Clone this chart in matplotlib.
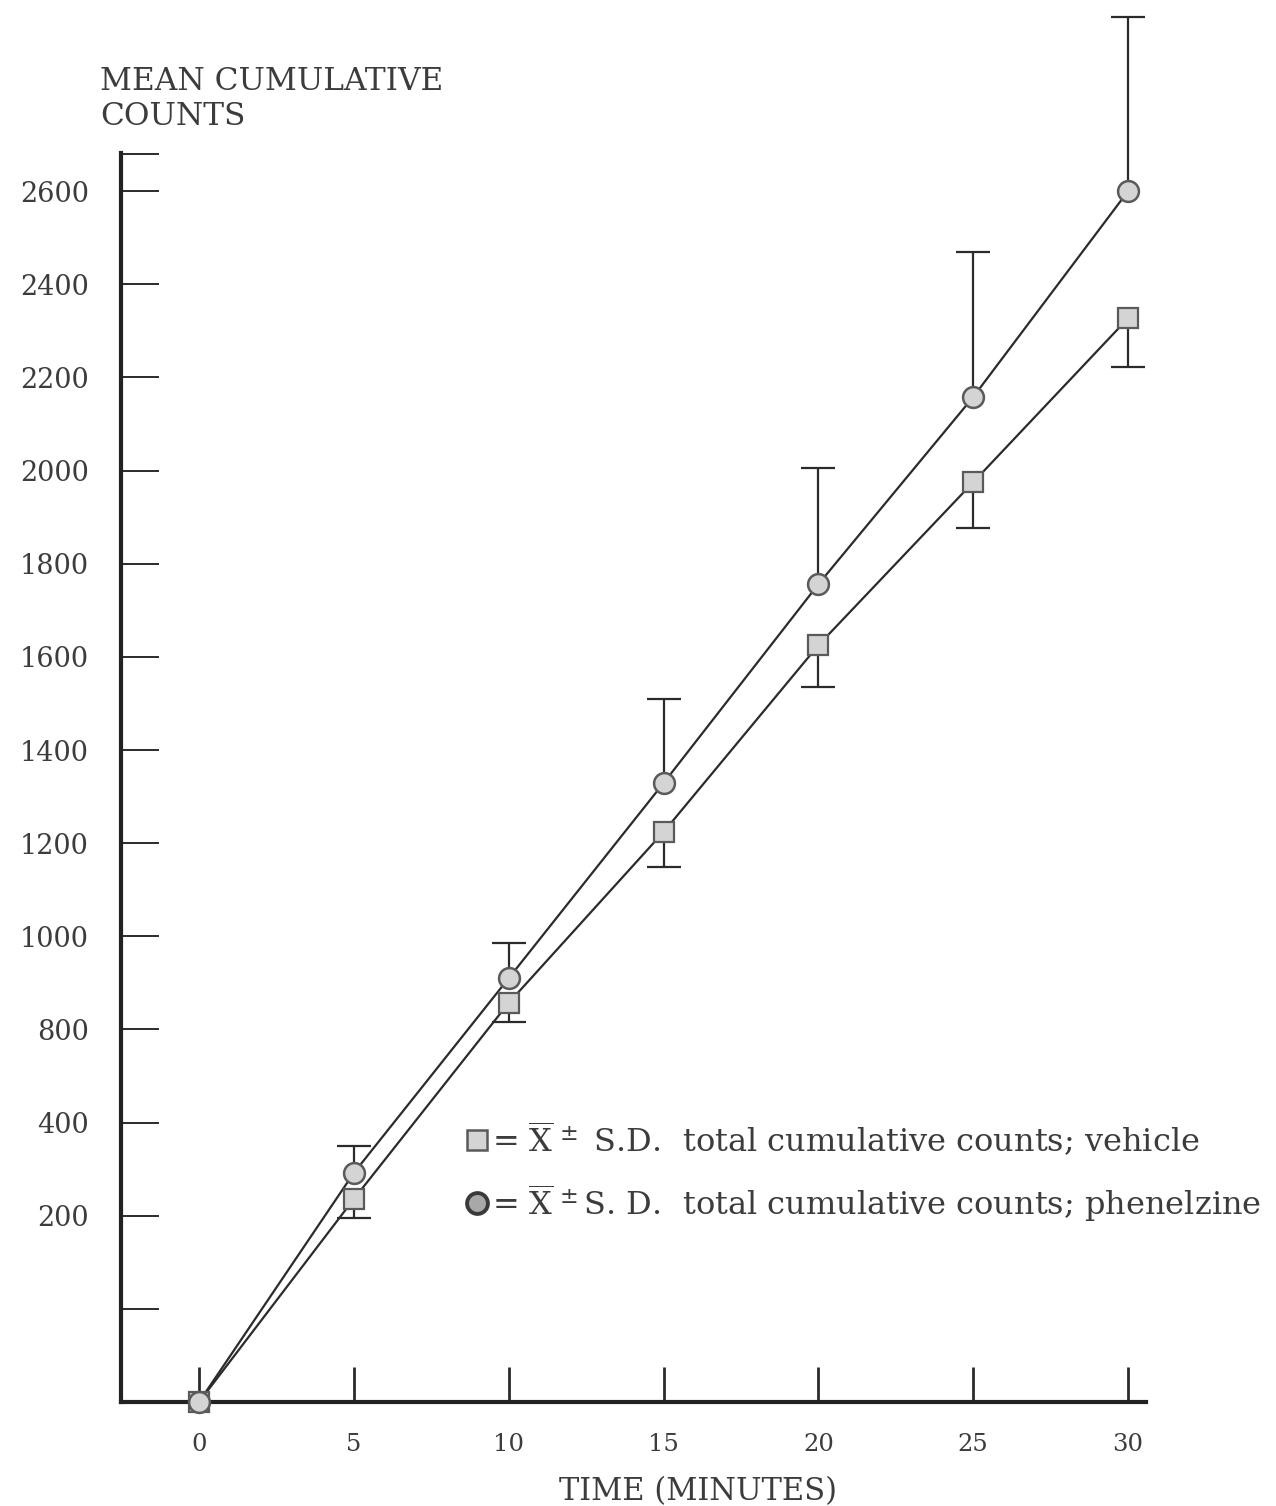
import numpy as np
import matplotlib
matplotlib.use("Agg")
import matplotlib.pyplot as plt

# values (in axis units)
time_min = [0, 5, 10, 15, 20, 25, 30]
vehicle = [0, 436, 857, 1224, 1625, 1975, 2327]
vehicle_sd = [0, 41, 41, 75, 90, 99, 105]
phenelzine = [0, 492, 910, 1329, 1756, 2158, 2600]
phenelzine_sd = [0, 58, 75, 180, 249, 311, 374]

xticks = [0, 5, 10, 15, 20, 25, 30]
yticks = [200, 400, 600, 800, 1000, 1200, 1400, 1600, 1800, 2000, 2200, 2400, 2600, 2680]
# the printed labels skip 600 and leave the lowest tick blank
ytick_labels = ['', '200', '400', '800', '1000', '1200', '1400', '1600',
                '1800', '2000', '2200', '2400', '2600', '']

ink = '#2b2b2b'
text_col = '#3c3c3c'
fill = '#d4d4d4'
edge = '#5a5a5a'

plt.rcParams['font.family'] = 'DejaVu Serif'
plt.rcParams['mathtext.fontset'] = 'dejavuserif'

fig = plt.figure(figsize=(12.76, 15.06), dpi=100)
ax = fig.add_axes([121 / 1276, 1 - 1402 / 1506, 1025 / 1276, 1249 / 1506])

# connecting lines
ax.plot(time_min, phenelzine, color=ink, lw=1.6, zorder=2, clip_on=False)
ax.plot(time_min, vehicle, color=ink, lw=1.6, zorder=2, clip_on=False)

# error bars: phenelzine upward, vehicle downward (skip time 0)
t = np.array(time_min[1:])
ph = np.array(phenelzine[1:])
veh = np.array(vehicle[1:])
ph_sd = np.array(phenelzine_sd[1:])
veh_sd = np.array(vehicle_sd[1:])
eb_ph = ax.errorbar(t, ph, yerr=[np.zeros_like(ph_sd), ph_sd], fmt='none',
                    ecolor=ink, elinewidth=1.6, capsize=12.5, capthick=1.6,
                    zorder=1, clip_on=False)
eb_veh = ax.errorbar(t, veh, yerr=[veh_sd, np.zeros_like(veh_sd)], fmt='none',
                     ecolor=ink, elinewidth=1.6, capsize=12.5, capthick=1.6,
                     zorder=1, clip_on=False)
# only one cap per bar: drop the cap sitting on the marker
eb_ph.lines[1][0].remove()
eb_veh.lines[1][1].remove()
for cap in (eb_ph.lines[1][1], eb_veh.lines[1][0]):
    cap.set_clip_on(False)

# markers
ax.plot(time_min, vehicle, 's', ms=15, mfc=fill, mec=edge, mew=1.6,
        zorder=4, clip_on=False)
ax.plot(time_min, phenelzine, 'o', ms=15, mfc=fill, mec=edge, mew=1.8,
        zorder=4, clip_on=False)

ax.set_xlim(-2.52, 30.58)
ax.set_ylim(0, 2682)

for side in ['top', 'right']:
    ax.spines[side].set_visible(False)
for side in ['left', 'bottom']:
    ax.spines[side].set_linewidth(3)
    ax.spines[side].set_color('#222222')

ax.set_xticks(xticks)
ax.set_xticklabels([str(v) for v in xticks], fontsize=17.5, color=text_col)
ax.set_yticks(yticks)
ax.set_yticklabels(ytick_labels, fontsize=19.5, color=text_col)
ax.tick_params(axis='y', direction='in', length=27, width=1.4,
               color=ink, pad=23)
ax.tick_params(axis='x', direction='in', length=25, width=2,
               color=ink, pad=22)

ax.set_xlabel('TIME (MINUTES)', fontsize=22, color=text_col)
ax.xaxis.set_label_coords((698 - 121) / 1025, -(1492 - 1402) / 1249)
ax.xaxis.label.set_va('center')

fig.text(100 / 1276, 1 - 66 / 1506, 'MEAN CUMULATIVE\nCOUNTS', ha='left',
         va='top', fontsize=22.5, color=text_col, linespacing=1.15)

# legend drawn as key markers + text
ax.plot([0.347], [0.210], 's', ms=15, mfc=fill, mec=edge, mew=1.8,
        transform=ax.transAxes, clip_on=False)
ax.plot([0.347], [0.159], 'o', ms=15, mfc='#a8a8a8', mec='#3a3a3a', mew=2.8,
        transform=ax.transAxes, clip_on=False)
ax.text(0.362, 0.210,
        r'= $\overline{\mathrm{X}}^{\,\pm}$ S.D.  total cumulative counts; vehicle',
        transform=ax.transAxes, va='center', ha='left', fontsize=23,
        color=text_col)
ax.text(0.362, 0.159,
        r'= $\overline{\mathrm{X}}^{\,\pm}$S. D.  total cumulative counts; phenelzine',
        transform=ax.transAxes, va='center', ha='left', fontsize=23,
        color=text_col)

fig.savefig('out.png', dpi=100, facecolor='white')
